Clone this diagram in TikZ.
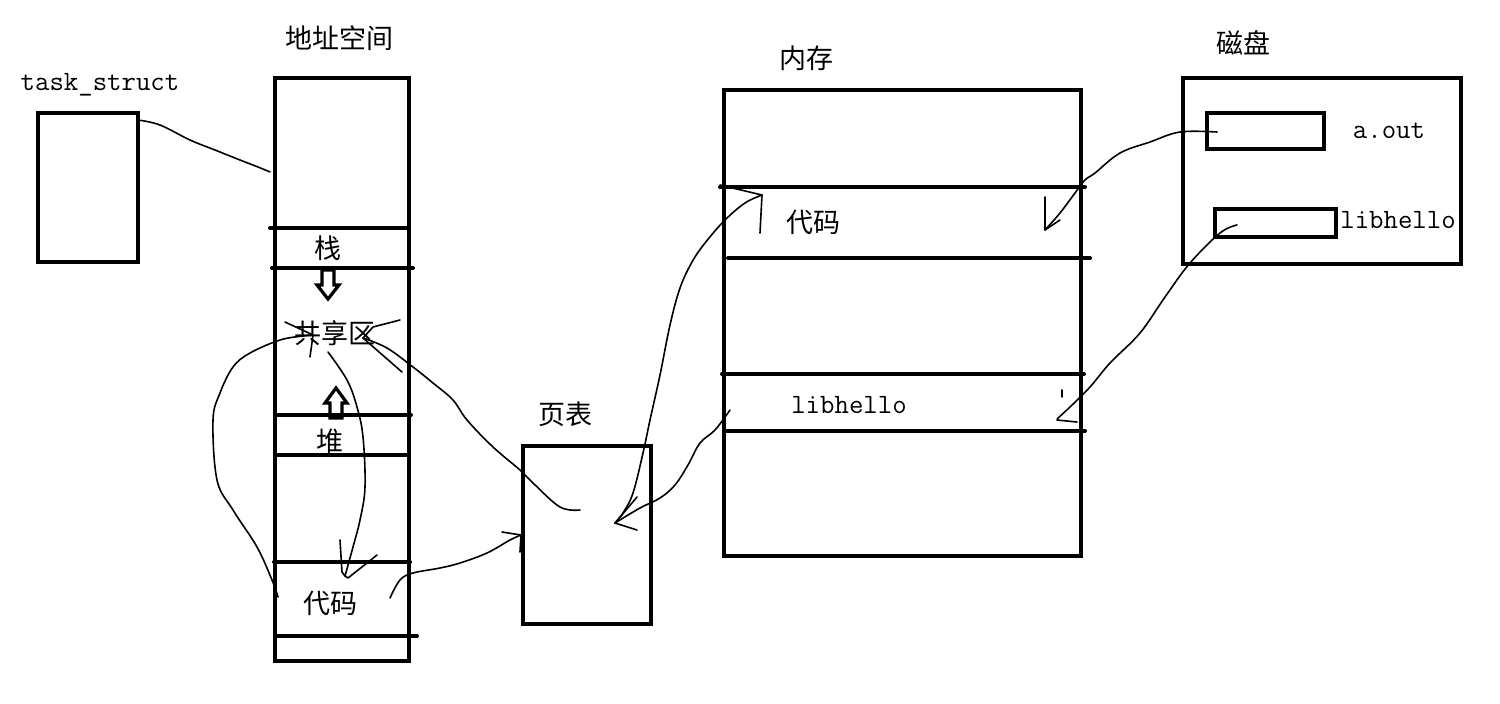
\documentclass[tikz,border=0pt]{standalone}
\usepackage{fontspec}
\newfontfamily\cjk{Noto Sans CJK SC}
\begin{document}
\begin{tikzpicture}[x=0.5pt,y=-0.5pt,
  box/.style={draw=black,line width=2pt,inner sep=0pt,outer sep=0pt},
  div/.style={line width=2pt,line cap=round},
  zh/.style={font=\cjk\fontsize{13.5}{15}\selectfont,inner sep=0pt},
  en/.style={font=\ttfamily\fontsize{14}{16}\selectfont,inner sep=0pt},
  hand/.style={line width=0.8pt,line cap=round,line join=round},
  hollow/.style={line width=1.6pt,line join=miter}]
\useasboundingbox (0,0) rectangle (1500,703);
% boxes
\node[box,minimum width=50pt,minimum height=74.5pt] (ts) at (88,187.5) {};
\node[box,minimum width=67pt,minimum height=291.5pt] (as) at (342,369.5) {};
\node[box,minimum width=64pt,minimum height=89pt] (pt) at (587,535) {};
\node[box,minimum width=178.5pt,minimum height=233pt] (mem) at (902.5,323) {};
\node[box,minimum width=139pt,minimum height=93pt] (disk) at (1322,171) {};
\node[box,minimum width=58.5pt,minimum height=18pt] (aout) at (1265.5,131) {};
\node[box,minimum width=60.5pt,minimum height=14pt] (lib) at (1275.5,223) {};
% dividers
\draw[div] (270,228) -- (408,228);
\draw[div] (272,268) -- (413,268);
\draw[div] (277,415) -- (411,415);
\draw[div] (277,455) -- (408,455);
\draw[div] (274,562) -- (410,562);
\draw[div] (277,636) -- (417,636);
\draw[div] (720,187) -- (1085,187);
\draw[div] (728,258) -- (1090,258);
\draw[div] (722,374) -- (1084,374);
\draw[div] (725,431) -- (1085,431);
% texts
\node[en] (tstxt) at (100,85) {task\_struct};
\node[zh] (astxt) at (339,38) {地址空间};
\node[zh] (stack) at (328,248) {栈};
\node[zh] (shared) at (335,333) {共享区};
\node[zh] (heap) at (330,441) {堆};
\node[zh] (code) at (330,603) {代码};
\node[zh] (pttxt) at (565,414) {页表};
\node[zh] (memtxt) at (806,58) {内存};
\node[zh] (mcode) at (813,222) {代码};
\node[en] (mlib) at (849,405) {libhello};
\node[zh] (disktxt) at (1243,43) {磁盘};
\node[en] (aouttxt) at (1389,131) {a.out};
\node[en] (libtxt) at (1398,220) {libhello};
% hollow arrows
\draw[hollow] (322,270) -- (334,270) -- (334,285) -- (339,285) -- (328,299) -- (317,285) -- (322,285) -- cycle;
\draw[hollow] (330,418) -- (342,418) -- (342,403) -- (347,403) -- (336,388) -- (325,403) -- (330,403) -- cycle;
% curve endpoints
\coordinate (c1a) at (138,120); \coordinate (c1b) at (270,172);
\coordinate (c2a) at (278,597); \coordinate (c2b) at (313,335);
\coordinate (c3a) at (328,352); \coordinate (c3b) at (345,576);
\coordinate (c4a) at (580,510); \coordinate (c4b) at (363,338);
\coordinate (c5a) at (390,598); \coordinate (c5b) at (521,535);
\coordinate (c6a) at (615,523); \coordinate (c6b) at (762,195);
\coordinate (c7a) at (730,410);
\coordinate (c8a) at (1217,132); \coordinate (c8b) at (1045,230);
\coordinate (c9a) at (1237,225); \coordinate (c9b) at (1058,418);
% hand-drawn connectors
\draw[hand] plot[smooth,tension=0.6] coordinates {(c1a) (160,125) (190,140) (215,150) (240,160) (258,167) (c1b)};
\draw[hand] plot[smooth,tension=0.6] coordinates {(c2a) (272,580) (257,547) (233,510) (217,480) (213,420) (220,393) (233,367) (250,353) (280,340) (303,336) (c2b)};
\draw[hand] (285,322) -- (c2b) -- (310,357);
\draw[hand] plot[smooth,tension=0.6] coordinates {(c3a) (347,380) (357,407) (363,437) (365,487) (360,520) (353,547) (c3b)};
\draw[hand] (340,540) -- (342,572) -- (c3b) -- (348,578) -- (377,555);
\draw[hand] plot[smooth,tension=0.6] coordinates {(c4a) (560,507) (533,483) (520,470) (493,447) (467,420) (453,400) (433,383) (413,367) (387,348) (c4b)};
\draw[hand] (400,320) -- (373,327) -- (c4b) -- (402,372);
\draw[hand] plot[smooth,tension=0.6] coordinates {(c5a) (400,580) (413,573) (440,568) (460,563) (487,553) (510,540) (c5b)};
\draw[hand] (502,532) -- (c5b) -- (520,552);
\draw[hand] plot[smooth,tension=0.6] coordinates {(c6a) (623,513) (633,493) (643,453) (650,420) (660,375) (670,325) (680,288) (692,262) (705,243) (725,220) (745,203) (c6b)};
\draw[hand] (720,185) -- (c6b) -- (760,233);
\draw[hand] (637,497) -- (c6a) -- (637,530);
\draw[hand] plot[smooth,tension=0.6] coordinates {(c7a) (715,430) (700,443) (688,465) (675,485) (660,498) (640,508) (c6a)};
\draw[hand] plot[smooth,tension=0.6] coordinates {(c8a) (1180,132) (1150,142) (1120,153) (1095,173) (1085,180) (1075,193) (1060,213) (c8b)};
\draw[hand] (1045,197) -- (c8b) -- (1060,220);
\draw[hand] plot[smooth,tension=0.6] coordinates {(c9a) (1220,233) (1190,263) (1165,297) (1140,333) (1110,363) (1090,387) (1070,407) (c9b)};
\draw[hand] (c9b) -- (1057,420) -- (1077,422);
\draw[hand] (1062,390) -- (1062,397);
\end{tikzpicture}
\end{document}
